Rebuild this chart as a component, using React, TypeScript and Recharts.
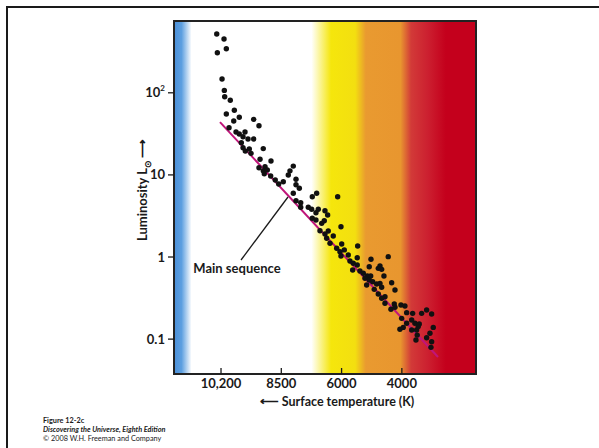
import React from 'react';
import {
  ComposedChart,
  XAxis,
  YAxis,
  Scatter,
  ReferenceArea,
  ReferenceLine,
  ReferenceDot,
} from 'recharts';

// Spectral position along the axis (tick index) and labels
const tempTickPositions = [0, 1, 2, 3];
const tempTickLabels = ['10,200', '8500', '6000', '4000'];
const lumTicks = [0.1, 1, 10, 100];

// Stars: position on temperature axis, luminosity (solar units)
const starPos = [
  -0.071, 0.05, -0.061, 0.088, 0.017, 0.055, 0.061, 0.154, 0.221, 0.088,
  0.303, 0.211, 0.542, 0.63, 0.133, 0.249, 0.303, 0.398, 0.365, 0.448,
  0.542, 0.337, 0.365, 0.469, 0.403, 0.498, 0.701, 0.647, 0.829, 0.63,
  0.73, 0.701, 0.768, 0.718, 0.824, 0.9, 0.957, 1.199, 1.144, 1.116,
  1.244, 1.033, 1.244, 1.299, 1.199, 1.587, 1.514, 1.935, 1.244, 1.322,
  1.322, 1.448, 1.504, 1.614, 1.725, 1.575, 1.769, 1.514, 1.575, 1.713,
  1.67, 1.99, 1.642, 1.779, 1.725, 1.753, 1.862, 1.808, 2.267, 2.002,
  1.919, 1.973, 2.045, 1.99, 2.111, 2.26, 2.774, 2.488, 2.139, 2.194,
  2.26, 2.459, 2.637, 2.665, 2.609, 2.184, 2.305, 2.36, 2.426, 2.483,
  2.703, 2.388, 2.459, 2.516, 2.831, 2.416, 2.582, 2.637, 2.665, 2.542,
  2.609, 2.886, 2.72, 2.665, 2.72, 2.874, 2.985, 3.051, 2.819, 2.886,
  3.08, 3.179, 3.328, 3.411, 3.494, 2.997, 3.163, 3.217, 3.289, 3.08,
  2.968, 3.023, 3.163, 3.245, 3.272, 3.521, 3.466, 3.255, 3.411, 3.234,
  3.494, 3.483,
];
const starLum = [
  520, 452, 308, 344, 147, 107, 89.7, 81.1, 61.2, 55.2,
  50.3, 45.4, 47.5, 39.7, 37.6, 33.3, 31.5, 33.3, 29.2, 27.4,
  27.4, 24.7, 21.4, 20.7, 19.5, 18.3, 20.9, 15.5, 14.8, 12.2,
  12.6, 11.2, 11.5, 10.3, 9.7, 8.67, 7.75, 12.8, 11.2, 9.97,
  8.84, 8.26, 7.6, 6.87, 5.97, 5.97, 5.43, 5.43, 4.85, 4.59,
  4.03, 4.03, 3.81, 3.81, 3.66, 3.46, 3.25, 2.96, 2.82, 2.77,
  2.57, 2.34, 2.09, 2.07, 1.91, 1.69, 1.8, 1.47, 1.36, 1.44,
  1.28, 1.16, 1.22, 1.03, 1.06, 0.98, 1.01, 0.94, 0.894, 0.838,
  0.799, 0.762, 0.777, 0.708, 0.728, 0.695, 0.675, 0.633, 0.587, 0.587,
  0.587, 0.551, 0.525, 0.5, 0.486, 0.456, 0.469, 0.478, 0.428, 0.404,
  0.354, 0.396, 0.328, 0.314, 0.273, 0.268, 0.26, 0.253, 0.231, 0.244,
  0.21, 0.206, 0.206, 0.226, 0.202, 0.179, 0.171, 0.156, 0.153, 0.156,
  0.132, 0.139, 0.129, 0.129, 0.142, 0.139, 0.118, 0.112, 0.104, 0.0975,
  0.0929, 0.0794,
];

// Main-sequence fit line end points
const mainSeqPos = [-0.017, 3.6];
const mainSeqLum = [44, 0.0605];

// Annotation pointer ("Main sequence") end points and label anchor
const pointerPos = [0.332, 1.111];
const pointerLum = [0.92, 5.38];
const labelPos = 0.265;
const labelLum = 0.64;

const xDomain: [number, number] = [-0.78, 4.23];
const yDomain: [number, number] = [0.0376, 749];

const stars = starPos.map((x, i) => ({ x, y: starLum[i] }));

const FONT = 'Lato, "Open Sans", sans-serif';
const INK = '#1a1a1a';

const YTick = (props: any) => {
  const { x, y, payload } = props;
  const v = payload.value;
  return (
    <text
      x={x}
      y={y}
      dy={4.5}
      textAnchor="end"
      fontFamily={FONT}
      fontWeight="bold"
      fontSize={13}
      fill={INK}
    >
      {v === 100 ? (
        <>
          10
          <tspan dy={-6} fontSize={8}>
            2
          </tspan>
        </>
      ) : v === 0.1 ? (
        '0.1'
      ) : (
        String(v)
      )}
    </text>
  );
};

const XTick = (props: any) => {
  const { x, y, payload } = props;
  const idx = tempTickPositions.indexOf(payload.value);
  return (
    <g>
      <line x1={x} x2={x} y1={y - 6} y2={y} stroke={INK} strokeWidth={1.3} />
      <text
        x={x}
        y={y + 13.5}
        textAnchor="middle"
        fontFamily={FONT}
        fontWeight="bold"
        fontSize={13}
        fill={INK}
      >
        {tempTickLabels[idx]}
      </text>
    </g>
  );
};

const YTitle = (props: any) => {
  const vb = props.viewBox || { x: 114, y: 21, width: 60, height: 353 };
  const cx = vb.x + 33;
  const cy = 190;
  return (
    <text
      x={cx}
      y={cy}
      transform={`rotate(-90, ${cx}, ${cy})`}
      textAnchor="middle"
      fontFamily={FONT}
      fontWeight="bold"
      fontSize={13}
      fill={INK}
    >
      Luminosity L
      <tspan fontSize={9} dy={4}>
        ⊙
      </tspan>
      <tspan dy={-4} dx={2} fontSize={13}>
        ⟶
      </tspan>
    </text>
  );
};

const XTitle = () => {
  return (
    <text
      x={337}
      y={406}
      textAnchor="middle"
      fontFamily={FONT}
      fontWeight="bold"
      fontSize={12.5}
      fill={INK}
    >
      <tspan fontSize={13}>⟵</tspan> Surface temperature (K)
    </text>
  );
};

const MainSeqLabel = (props: any) => {
  const vb = props.viewBox || { x: 0, y: 0 };
  return (
    <text
      x={vb.x}
      y={vb.y}
      textAnchor="middle"
      fontFamily={FONT}
      fontWeight="bold"
      fontSize={13}
      fill={INK}
    >
      Main sequence
    </text>
  );
};

export default function App() {
  return (
    <div
      style={{
        position: 'fixed',
        left: 0,
        top: 0,
        width: 599,
        height: 448,
        overflow: 'hidden',
        background: '#ffffff',
      }}
    >
      <div
        style={{
          position: 'absolute',
          left: 6,
          top: 6,
          width: 700,
          height: 600,
          border: '2px solid #1a1a1a',
          boxSizing: 'border-box',
        }}
      />
      <svg width={0} height={0} style={{ position: 'absolute' }}>
        <defs>
          <linearGradient id="tempBands" x1="0" y1="0" x2="1" y2="0">
            <stop offset="0" stopColor="#4a8fd8" />
            <stop offset="0.025" stopColor="#5c9fe0" />
            <stop offset="0.058" stopColor="#ffffff" />
            <stop offset="0.455" stopColor="#ffffff" />
            <stop offset="0.52" stopColor="#f5e60c" />
            <stop offset="0.6" stopColor="#f3df10" />
            <stop offset="0.635" stopColor="#e99a30" />
            <stop offset="0.75" stopColor="#e8962f" />
            <stop offset="0.785" stopColor="#d23a38" />
            <stop offset="0.84" stopColor="#cc2030" />
            <stop offset="0.9" stopColor="#c4001c" />
            <stop offset="1" stopColor="#c4001c" />
          </linearGradient>
        </defs>
      </svg>
      <div style={{ position: 'absolute', left: 0, top: 0 }}>
        <ComposedChart
          width={599}
          height={448}
          margin={{ top: 21, right: 123, bottom: 44, left: 114 }}
        >
          <XAxis
            type="number"
            dataKey="x"
            domain={xDomain}
            allowDataOverflow
            ticks={tempTickPositions}
            tick={<XTick />}
            tickLine={false}
            tickSize={0}
            tickMargin={0}
            axisLine={false}
            height={30}
            label={{ content: <XTitle /> }}
          />
          <YAxis
            type="number"
            dataKey="y"
            scale="log"
            domain={yDomain}
            allowDataOverflow
            ticks={lumTicks}
            tick={<YTick />}
            tickSize={6}
            tickMargin={3}
            tickLine={{ stroke: INK, strokeWidth: 1.3 }}
            axisLine={false}
            width={60}
            label={{ content: <YTitle /> }}
          />
          <ReferenceArea
            x1={xDomain[0]}
            x2={xDomain[1]}
            y1={yDomain[0]}
            y2={yDomain[1]}
            fill="url(#tempBands)"
            fillOpacity={1}
            stroke="#222222"
            strokeWidth={2}
            ifOverflow="extendDomain"
          />
          <ReferenceLine
            segment={[
              { x: mainSeqPos[0], y: mainSeqLum[0] },
              { x: mainSeqPos[1], y: mainSeqLum[1] },
            ]}
            stroke="#c0157a"
            strokeWidth={2}
          />
          <ReferenceLine
            segment={[
              { x: pointerPos[0], y: pointerLum[0] },
              { x: pointerPos[1], y: pointerLum[1] },
            ]}
            stroke={INK}
            strokeWidth={1.3}
          />
          <ReferenceDot
            x={labelPos}
            y={labelLum}
            r={0}
            fill="none"
            stroke="none"
            label={{ content: <MainSeqLabel /> }}
          />
          <Scatter
            data={stars}
            isAnimationActive={false}
            fill="#111111"
            shape={(p: any) => (
              <circle cx={p.cx} cy={p.cy} r={2.7} fill="#111111" />
            )}
          />
        </ComposedChart>
      </div>
      <div
        style={{
          position: 'absolute',
          left: 43,
          top: 416,
          fontFamily: FONT,
          fontSize: 7.3,
          lineHeight: '9px',
          color: '#1a1a1a',
          whiteSpace: 'nowrap',
        }}
      >
        <div style={{ fontWeight: 'bold' }}>Figure 12-2c</div>
        <div style={{ fontWeight: 'bold', fontStyle: 'italic' }}>
          Discovering the Universe, Eighth Edition
        </div>
        <div>© 2008 W.H. Freeman and Company</div>
      </div>
    </div>
  );
}
